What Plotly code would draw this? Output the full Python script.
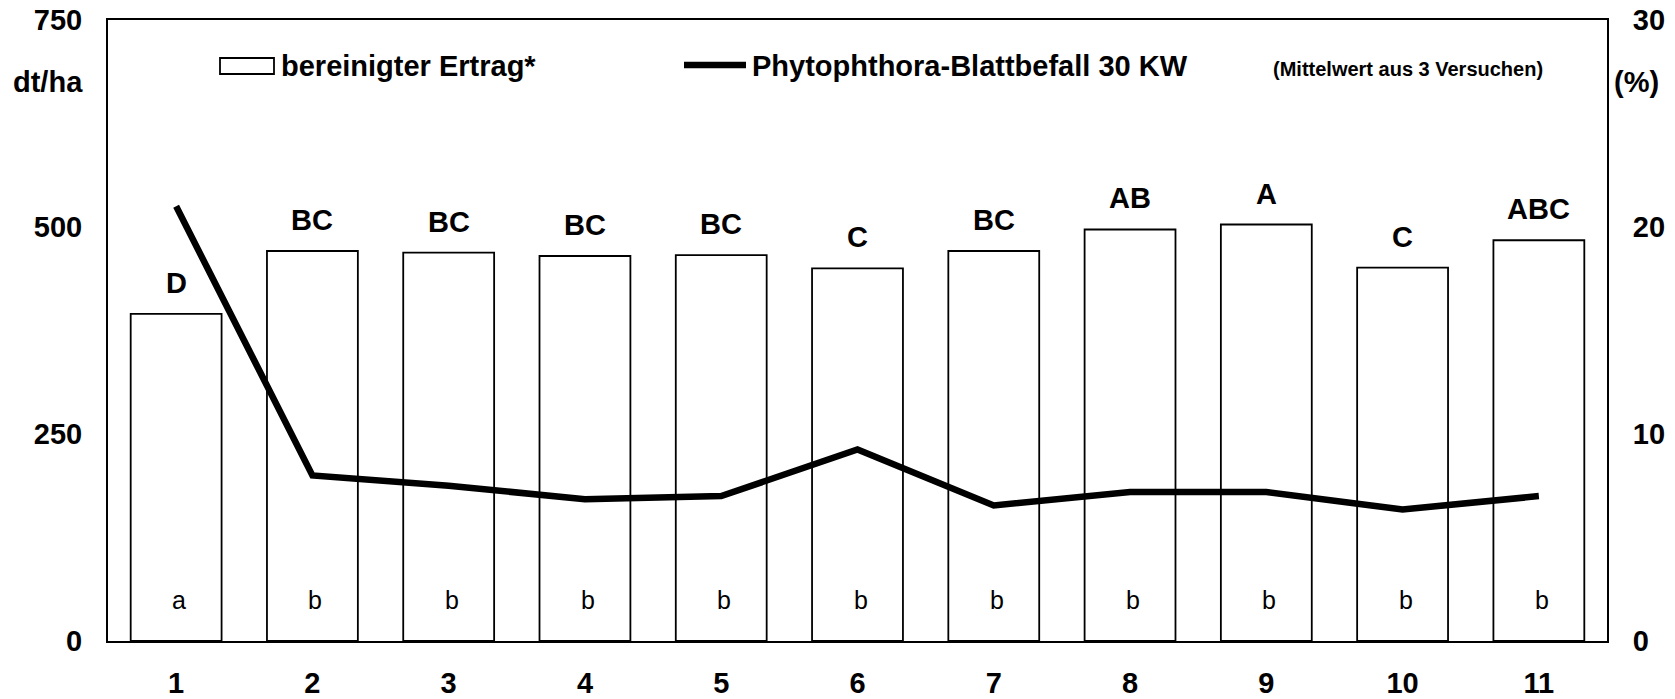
import plotly.graph_objects as go

# data
varianten = ["1", "2", "3", "4", "5", "6", "7", "8", "9", "10", "11"]
ertrag = [395, 471, 469, 465, 466, 450, 471, 497, 503, 451, 484]
befall = [21.0, 8.0, 7.5, 6.85, 7.0, 9.25, 6.55, 7.2, 7.2, 6.35, 7.0]
gruppen_ertrag = ["D", "BC", "BC", "BC", "BC", "C", "BC", "AB", "A", "C", "ABC"]
gruppen_befall = ["a", "b", "b", "b", "b", "b", "b", "b", "b", "b", "b"]
y_ticks = [0, 250, 500, 750]
y2_ticks = [0, 10, 20, 30]

FONT = "Liberation Sans, Arial, sans-serif"
BIG = 29

fig = go.Figure()
fig.add_trace(
    go.Bar(
        x=varianten,
        y=ertrag,
        marker=dict(color="white", line=dict(color="black", width=1.8)),
        name="bereinigter Ertrag*",
        showlegend=False,
    )
)
fig.add_trace(
    go.Scatter(
        x=varianten,
        y=befall,
        mode="lines",
        line=dict(color="black", width=6.5),
        yaxis="y2",
        name="Phytophthora-Blattbefall 30 KW",
        showlegend=False,
    )
)

# significance letters (x given as category index)
for i, (e, g) in enumerate(zip(ertrag, gruppen_ertrag)):
    fig.add_annotation(
        x=i, y=e, text=g, showarrow=False, yshift=31, yanchor="middle",
        font=dict(family=FONT, size=BIG, color="black", weight="bold"),
    )
for i, g in enumerate(gruppen_befall):
    fig.add_annotation(
        x=i, y=50, text=g, showarrow=False, xshift=3, yanchor="middle",
        font=dict(family=FONT, size=25, color="black"),
    )


def px(x):
    return (x - 108) / 1499


def py(y):
    return 1 - (y - 20) / 621


# hand-drawn legend like the original
fig.add_shape(type="rect", xref="paper", yref="paper",
              x0=px(220), x1=px(274), y0=py(74), y1=py(58),
              line=dict(color="black", width=1.8), fillcolor="white")
fig.add_annotation(xref="paper", yref="paper", x=px(279), y=py(66),
                   xanchor="left", yanchor="middle", text="bereinigter Ertrag*",
                   showarrow=False,
                   font=dict(family=FONT, size=BIG, color="black", weight="bold"))
fig.add_shape(type="line", xref="paper", yref="paper",
              x0=px(684), x1=px(746), y0=py(65), y1=py(65),
              line=dict(color="black", width=6.5))
fig.add_annotation(xref="paper", yref="paper", x=px(750), y=py(66),
                   xanchor="left", yanchor="middle",
                   text="Phytophthora-Blattbefall 30 KW", showarrow=False,
                   font=dict(family=FONT, size=BIG, color="black", weight="bold"))
fig.add_annotation(xref="paper", yref="paper", x=px(1271), y=py(69),
                   xanchor="left", yanchor="middle",
                   text="(Mittelwert aus 3 Versuchen)", showarrow=False,
                   font=dict(family=FONT, size=20, color="black", weight="bold"))

# axis units
fig.add_annotation(xref="paper", yref="paper", x=0, y=1, xshift=-23, yshift=-62,
                   xanchor="right", yanchor="middle", text="dt/ha", showarrow=False,
                   font=dict(family=FONT, size=BIG, color="black", weight="bold"))
fig.add_annotation(xref="paper", yref="paper", x=1, y=1, xshift=5, yshift=-62,
                   xanchor="left", yanchor="middle", text="(%)", showarrow=False,
                   font=dict(family=FONT, size=BIG, color="black", weight="bold"))

tickfont = dict(family=FONT, size=BIG, color="black", weight="bold")
fig.update_layout(
    width=1675,
    height=699,
    margin=dict(l=108, r=68, t=20, b=58),
    plot_bgcolor="white",
    paper_bgcolor="white",
    bargap=0.333,
    xaxis=dict(
        type="category", range=[-0.5, 10.5], showline=True, linecolor="black",
        linewidth=2, mirror=True, showgrid=False, ticks="", tickfont=tickfont,
        ticklabelstandoff=15, automargin=False,
    ),
    yaxis=dict(
        range=[0, 750], tickvals=y_ticks, showline=True, linecolor="black",
        linewidth=2, showgrid=False, zeroline=False, ticks="", tickfont=tickfont,
        ticklabelstandoff=18, automargin=False,
    ),
    yaxis2=dict(
        range=[0, 30], tickvals=y2_ticks, overlaying="y", side="right",
        showline=True, linecolor="black", linewidth=2, showgrid=False,
        zeroline=False, ticks="", tickfont=tickfont, ticklabelstandoff=18,
        automargin=False,
    ),
)

# the page's default body margin would push the fixed-size figure off screen
fig.write_html(
    "out.html",
    config={"displayModeBar": False},
    post_script="document.body.style.margin='0';",
)
